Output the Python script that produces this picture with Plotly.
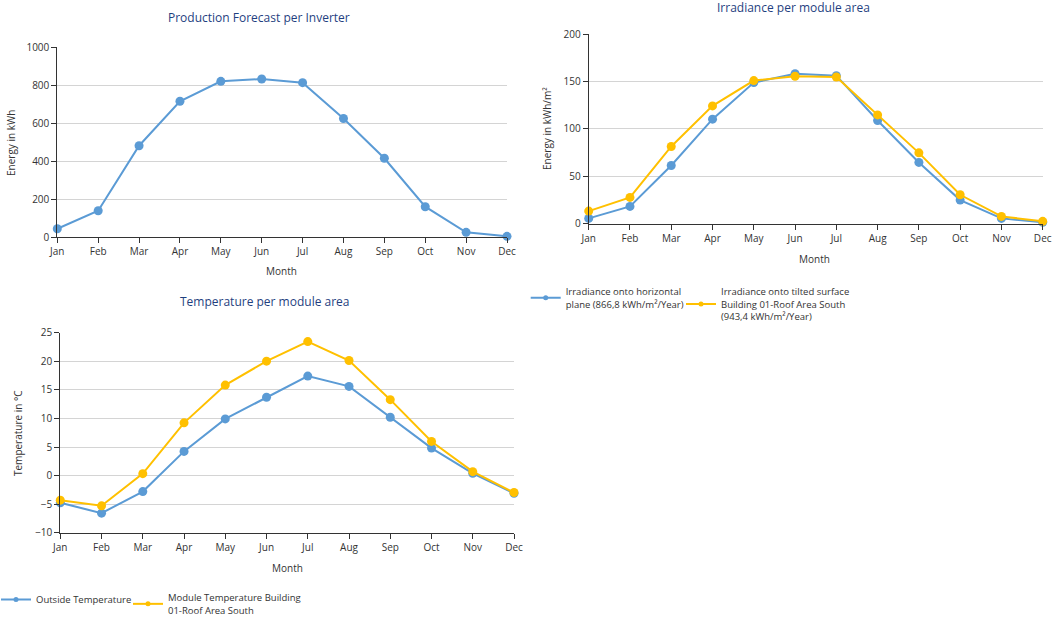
import plotly.graph_objects as go

months = ["Jan", "Feb", "Mar", "Apr", "May", "Jun", "Jul", "Aug", "Sep", "Oct", "Nov", "Dec"]

production_kwh = [45, 140, 482, 716, 821, 833, 814, 625, 416, 161, 26, 5]

irr_horizontal = [5.6, 18.2, 61.4, 110.2, 148.8, 158.2, 156.1, 108.8, 64.6, 24.9, 5.6, 1.4]
irr_tilted = [13.3, 27.7, 81.4, 124.2, 150.9, 155.4, 154.7, 114.7, 74.7, 30.5, 7.7, 2.5]

temp_outside = [-4.76, -6.56, -2.79, 4.24, 9.92, 13.7, 17.41, 15.61, 10.21, 4.82, 0.41, -3.08]
temp_module = [-4.29, -5.28, 0.35, 9.23, 15.84, 20.02, 23.45, 20.14, 13.29, 5.98, 0.70, -2.96]

name_irr_h = "Irradiance onto horizontal<br>plane (866,8 kWh/m²/Year)"
name_irr_t = "Irradiance onto tilted surface<br>Building 01-Roof Area South<br>(943,4 kWh/m²/Year)"
name_t_out = "Outside Temperature"
name_t_mod = "Module Temperature Building<br>01-Roof Area South"

BLUE = "#5b9bd5"
YELLOW = "#ffc000"
FONT = "Open Sans"
TXT = "#333333"
TITLE_C = "#1f3f7f"

W, H = 1055, 621

def px_x(v):
    return v / W

def px_y(v):
    return 1 - v / H

fig = go.Figure()

def trace(x, y, name, color, xa, ya, legend=None):
    # the data trace (not in legend)
    fig.add_trace(go.Scatter(
        x=x, y=y, name=name, mode="lines+markers",
        line=dict(color=color, width=2),
        marker=dict(color=color, size=9),
        xaxis=xa, yaxis=ya, cliponaxis=False,
        showlegend=False, legendgroup=name,
    ))
    if legend is not None:
        # legend entry with a smaller marker, as in the original
        fig.add_trace(go.Scatter(
            x=[None], y=[None], name=name, mode="lines+markers",
            line=dict(color=color, width=2),
            marker=dict(color=color, size=5),
            xaxis=xa, yaxis=ya, showlegend=True, legend=legend,
            legendgroup=name, hoverinfo="skip",
        ))

trace(months, production_kwh, "Production", BLUE, "x", "y")
trace(months, irr_horizontal, name_irr_h, BLUE, "x2", "y2", legend="legend")
trace(months, irr_tilted, name_irr_t, YELLOW, "x2", "y2", legend="legend2")
trace(months, temp_outside, name_t_out, BLUE, "x3", "y3", legend="legend3")
trace(months, temp_module, name_t_mod, YELLOW, "x3", "y3", legend="legend4")

def xaxis(dom, anchor):
    return dict(domain=dom, anchor=anchor, range=[0, 11], type="category",
                showline=True, linecolor="#333333", linewidth=1,
                ticks="outside", ticklen=5, tickcolor="#333333",
                showgrid=False, zeroline=False, automargin=False,
                tickfont=dict(family=FONT, size=10, color=TXT))

def yaxis(dom, anchor, rng, dtick):
    return dict(domain=dom, anchor=anchor, range=rng, dtick=dtick,
                showline=True, linecolor="#333333", linewidth=1,
                ticks="outside", ticklen=5, tickcolor="#333333",
                showgrid=True, gridcolor="#d4d4d4", gridwidth=1,
                zeroline=False, automargin=False,
                tickfont=dict(family=FONT, size=10, color=TXT))

def legend_at(text_x, text_top):
    # plotly places the entry text 40px right of the legend's left edge
    return dict(orientation="h", x=px_x(text_x - 40), y=px_y(text_top), xanchor="left", yanchor="top",
                font=dict(family=FONT, size=9.5, color=TXT), valign="middle",
                itemwidth=30, bgcolor="rgba(0,0,0,0)")

fig.update_layout(
    width=W, height=H,
    margin=dict(l=0, r=0, t=0, b=0, autoexpand=False),
    paper_bgcolor="white", plot_bgcolor="white",
    font=dict(family=FONT, size=10, color=TXT),
    xaxis=xaxis([px_x(57.3), px_x(507)], "y"),
    yaxis=yaxis([px_y(237.3), px_y(47.3)], "x", [0, 1000], 200),
    xaxis2=xaxis([px_x(588.7), px_x(1042.7)], "y2"),
    yaxis2=yaxis([px_y(223.7), px_y(34)], "x2", [0, 200], 50),
    xaxis3=xaxis([px_x(60.3), px_x(514)], "y3"),
    yaxis3=yaxis([px_y(532.8), px_y(332.7)], "x3", [-10, 25], 5),
    legend=legend_at(565.7, 279),
    legend2=legend_at(721, 279),
    legend3=legend_at(36, 585),
    legend4=legend_at(168, 585),
)

def ann(text, x, y, size=10, color=TXT, angle=0):
    fig.add_annotation(text=text, x=px_x(x), y=px_y(y), xref="paper", yref="paper",
                       showarrow=False, xanchor="center", yanchor="middle",
                       textangle=angle, font=dict(family=FONT, size=size, color=color))

ann("Production Forecast per Inverter", 258.5, 17, size=12, color=TITLE_C)
ann("Irradiance per module area", 793, 7, size=12, color=TITLE_C)
ann("Temperature per module area", 265, 302, size=12, color=TITLE_C)

ann("Energy in kWh", 11, 143, angle=-90)
ann("Energy in kWh/m²", 547, 129, angle=-90)
ann("Temperature in °C", 18, 433, angle=-90)

ann("Month", 281, 271)
ann("Month", 814, 259)
ann("Month", 287, 568)

fig.write_html("out.html", config={"displayModeBar": False},
               post_script="document.body.style.margin='0px';")
